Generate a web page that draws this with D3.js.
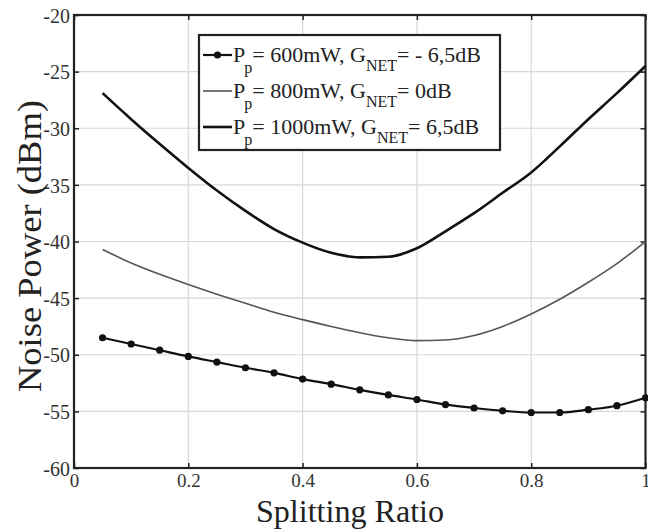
<!DOCTYPE html>
<html>
<head>
<meta charset="utf-8">
<script src="https://cdn.jsdelivr.net/npm/d3@7"></script>
<style>
  body { margin: 0; background: #fff; }
  svg { display: block; }
  svg text { font-family: "Liberation Serif", "Times New Roman", "DejaVu Serif", serif; }
</style>
</head>
<body>
<svg id="chart"></svg>
<script>
// data
let splitRatio = [0.05, 0.1, 0.15, 0.2, 0.25, 0.3, 0.35, 0.4, 0.45, 0.5, 0.55, 0.6, 0.65, 0.7, 0.75, 0.8, 0.85, 0.9, 0.95, 1.0]
let noise600 = [-48.5, -49.05, -49.6, -50.15, -50.65, -51.15, -51.6, -52.15, -52.6, -53.1, -53.55, -53.95, -54.4, -54.7, -54.95, -55.1, -55.1, -54.85, -54.5, -53.8]
let noise800 = [-40.7, -41.9, -42.9, -43.8, -44.65, -45.45, -46.25, -46.9, -47.5, -48.05, -48.5, -48.75, -48.7, -48.3, -47.5, -46.4, -45.1, -43.6, -41.95, -40.0]
let noise1000 = [-26.9, -29.2, -31.4, -33.5, -35.5, -37.3, -38.9, -40.1, -41.0, -41.4, -41.35, -40.6, -39.1, -37.5, -35.7, -33.9, -31.6, -29.2, -26.9, -24.5]

let xTicks = [0, 0.2, 0.4, 0.6, 0.8, 1]
let yTicks = [-60, -55, -50, -45, -40, -35, -30, -25, -20]

// legend text: [main, sub, main, sub, main]
let legendLabels = [
  ["P", "p", "= 600mW, G", "NET", "= - 6,5dB"],
  ["P", "p", "= 800mW, G", "NET", "= 0dB"],
  ["P", "p", "= 1000mW, G", "NET", "= 6,5dB"]
]

let w = 648
let h = 529
let padLeft = 74
let padRight = 645.5
let padTop = 15
let padBottom = 468

let serif = "'Liberation Serif', 'Times New Roman', serif"

let svg = d3.select("#chart").attr("width", w).attr("height", h)

let xScale = d3.scaleLinear().domain([0, 1]).range([padLeft, padRight])
let yScale = d3.scaleLinear().domain([-60, -20]).range([padBottom, padTop])

// grid
let grid = svg.append("g")
grid.selectAll(".gx")
    .data(xTicks.slice(1, -1))
    .enter()
    .append("line")
    .attr("x1", d => xScale(d)).attr("x2", d => xScale(d))
    .attr("y1", padTop).attr("y2", padBottom)
    .attr("stroke", "#d8d8d8").attr("stroke-width", 1.2)
grid.selectAll(".gy")
    .data(yTicks.slice(1, -1))
    .enter()
    .append("line")
    .attr("y1", d => yScale(d)).attr("y2", d => yScale(d))
    .attr("x1", padLeft).attr("x2", padRight)
    .attr("stroke", "#d8d8d8").attr("stroke-width", 1.2)

// axes (inward ticks on all four sides)
let xAxis = d3.axisBottom(xScale).tickValues(xTicks).tickSize(-5).tickPadding(6).tickFormat(d => String(d))
let yAxis = d3.axisLeft(yScale).tickValues(yTicks).tickSize(-5).tickPadding(4).tickFormat(d => String(d))

let gx = svg.append("g").attr("transform", "translate(0," + padBottom + ")").call(xAxis)
let gy = svg.append("g").attr("transform", "translate(" + padLeft + ",0)").call(yAxis)
svg.append("g").attr("transform", "translate(0," + padTop + ")")
   .call(d3.axisTop(xScale).tickValues(xTicks).tickSize(-5).tickFormat(""))
svg.append("g").attr("transform", "translate(" + padRight + ",0)")
   .call(d3.axisRight(yScale).tickValues(yTicks).tickSize(-5).tickFormat(""))

svg.selectAll(".domain").remove()
svg.selectAll("g").attr("font-family", null)
svg.selectAll(".tick line").attr("stroke", "#222").attr("stroke-width", 1.5)
gx.selectAll("text").attr("font-size", 19).attr("fill", "#333").style("font-family", serif)
gy.selectAll("text").attr("font-size", 20).attr("fill", "#333").style("font-family", serif)
  .attr("dy", "0.36em")

// frame
svg.append("rect")
   .attr("x", padLeft).attr("y", padTop)
   .attr("width", padRight - padLeft).attr("height", padBottom - padTop)
   .attr("fill", "none").attr("stroke", "#222").attr("stroke-width", 2.2)

// curves
let line = d3.line()
  .x((d, i) => xScale(splitRatio[i]))
  .y(d => yScale(d))
  .curve(d3.curveMonotoneX)

svg.append("path").datum(noise1000)
   .attr("d", line).attr("fill", "none").attr("stroke", "#111").attr("stroke-width", 2.6)
svg.append("path").datum(noise800)
   .attr("d", line).attr("fill", "none").attr("stroke", "#555").attr("stroke-width", 1.6)
svg.append("path").datum(noise600)
   .attr("d", line).attr("fill", "none").attr("stroke", "#111").attr("stroke-width", 2.2)
svg.selectAll(".dot")
   .data(noise600)
   .enter()
   .append("circle")
   .attr("cx", (d, i) => xScale(splitRatio[i]))
   .attr("cy", d => yScale(d))
   .attr("r", 3.6)
   .attr("fill", "#111")

// legend
let legend = svg.append("g")
legend.append("rect")
      .attr("x", 199).attr("y", 35).attr("width", 301).attr("height", 115)
      .attr("fill", "#fff").attr("stroke", "#222").attr("stroke-width", 2.2)

let rowY = [55, 91, 127]
let styles = [
  { stroke: "#111", width: 2.2, dot: true },
  { stroke: "#555", width: 1.6, dot: false },
  { stroke: "#111", width: 2.6, dot: false }
]

legendLabels.forEach((parts, i) => {
  let y = rowY[i]
  legend.append("line")
        .attr("x1", 203).attr("x2", 232).attr("y1", y).attr("y2", y)
        .attr("stroke", styles[i].stroke).attr("stroke-width", styles[i].width)
  if (styles[i].dot) {
    legend.append("circle").attr("cx", 217.5).attr("cy", y).attr("r", 3.6).attr("fill", "#111")
  }
  let t = legend.append("text")
        .attr("x", 233).attr("y", y + 7)
        .attr("font-size", 22).attr("fill", "#222")
        .style("font-family", serif)
  t.append("tspan").text(parts[0])
  t.append("tspan").text(parts[1]).attr("font-size", 16).attr("dy", 11).attr("dx", -1)
  t.append("tspan").text(parts[2]).attr("dy", -11)
  t.append("tspan").text(parts[3]).attr("font-size", 16).attr("dy", 9)
  t.append("tspan").text(parts[4]).attr("dy", -9)
})

// axis titles
svg.append("text")
   .attr("x", 350).attr("y", 522)
   .attr("text-anchor", "middle")
   .attr("font-size", 31).attr("fill", "#222")
   .style("font-family", serif)
   .attr("textLength", 188).attr("lengthAdjust", "spacingAndGlyphs")
   .text("Splitting Ratio")

svg.append("text")
   .attr("transform", "translate(41,246) rotate(-90)")
   .attr("text-anchor", "middle")
   .attr("font-size", 34).attr("fill", "#222")
   .style("font-family", serif)
   .attr("textLength", 292).attr("lengthAdjust", "spacingAndGlyphs")
   .text("Noise Power (dBm)")
</script>
</body>
</html>
